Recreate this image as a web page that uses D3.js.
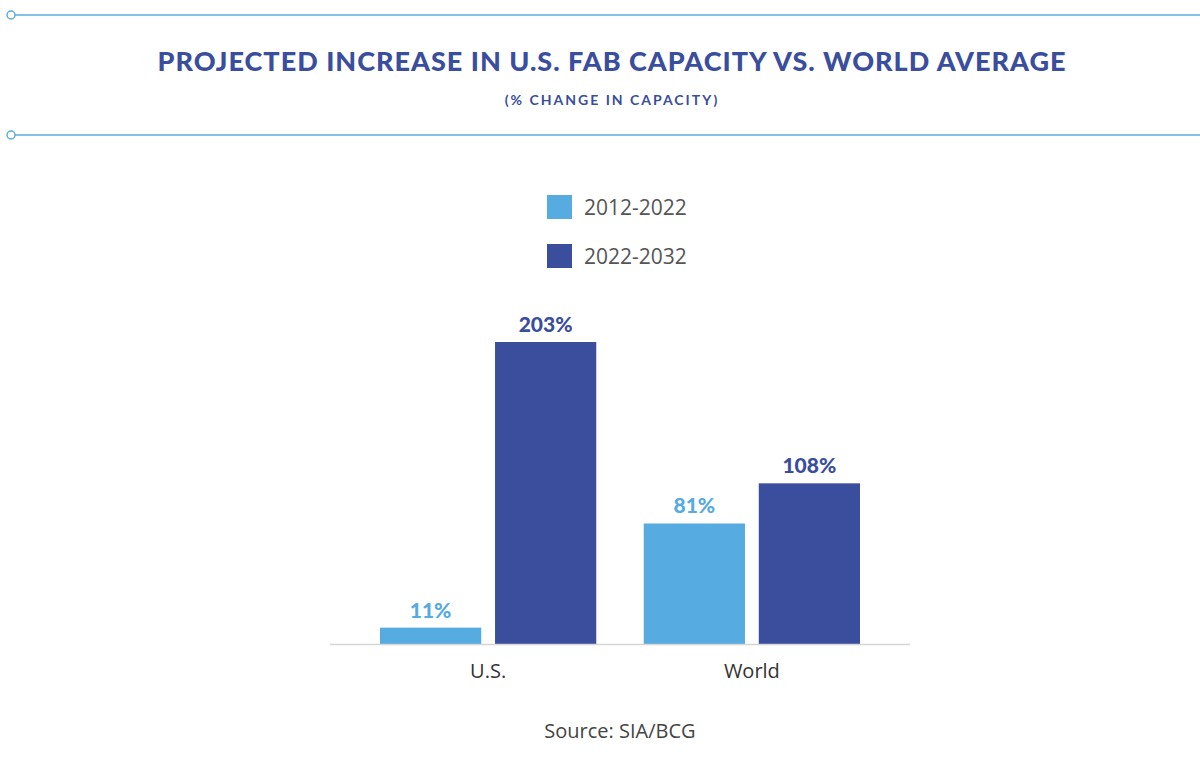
<!DOCTYPE html>
<html lang="en">
<head>
  <meta charset="UTF-8">
  <title>Fab Capacity</title>
  <style>
    html, body { margin: 0; background: #fff; }
  </style>
</head>
<body>
  <script src="https://d3js.org/d3.v7.min.js"></script>
  <script>
    const groups = ["U.S.", "World"];
    const periods = ["2012-2022", "2022-2032"];
    const values2012 = [11, 81];
    const values2022 = [203, 108];
    const colors = ["#56abe0", "#3a4e9d"];

    const svg = d3.select("body").append("svg")
      .attr("width", 1200).attr("height", 764);

    // header rules
    [15, 135].forEach(y => {
      svg.append("line").attr("x1", 15).attr("x2", 1200).attr("y1", y).attr("y2", y)
        .attr("stroke", "#5aaedb").attr("stroke-width", 1.5);
      svg.append("circle").attr("cx", 11).attr("cy", y).attr("r", 4)
        .attr("fill", "#fff").attr("stroke", "#5aaedb").attr("stroke-width", 1.5);
    });

    svg.append("text").attr("x", 612).attr("y", 71).attr("text-anchor", "middle")
      .attr("font-family", "Lato").attr("font-weight", 900).attr("font-size", 27)
      .attr("letter-spacing", 1).attr("fill", "#3a4e9d")
      .text("PROJECTED INCREASE IN U.S. FAB CAPACITY VS. WORLD AVERAGE");
    svg.append("text").attr("x", 612).attr("y", 105).attr("text-anchor", "middle")
      .attr("font-family", "Lato").attr("font-weight", 700).attr("font-size", 14)
      .attr("letter-spacing", 2).attr("fill", "#3a4e9d")
      .text("(% CHANGE IN CAPACITY)");

    // legend
    periods.forEach((p, i) => {
      const y = 195 + i * 49;
      svg.append("rect").attr("x", 547).attr("y", y).attr("width", 25).attr("height", 24)
        .attr("fill", colors[i]);
      svg.append("text").attr("x", 584).attr("y", y + 20)
        .attr("font-family", "Open Sans").attr("font-size", 21).attr("fill", "#555")
        .text(p);
    });

    const x0 = d3.scaleBand().domain(groups).range([380, 860]).paddingInner(0.18);
    const x1 = d3.scaleBand().domain(periods).range([0, x0.bandwidth()]).paddingInner(0.12);
    const y = d3.scaleLinear().domain([0, 203]).range([644, 342]);

    const rows = groups.map((g, i) => ({ g, vals: [values2012[i], values2022[i]] }));

    const grp = svg.selectAll(".grp").data(rows).enter().append("g")
      .attr("transform", d => `translate(${x0(d.g)},0)`);

    grp.selectAll("rect").data(d => d.vals.map((v, i) => ({ v, i })))
      .enter().append("rect")
      .attr("x", d => x1(periods[d.i]))
      .attr("width", x1.bandwidth())
      .attr("y", d => y(d.v))
      .attr("height", d => y(0) - y(d.v))
      .attr("fill", d => colors[d.i]);

    grp.selectAll("text.lbl").data(d => d.vals.map((v, i) => ({ v, i })))
      .enter().append("text")
      .attr("x", d => x1(periods[d.i]) + x1.bandwidth() / 2)
      .attr("y", d => y(d.v) - 10)
      .attr("text-anchor", "middle")
      .attr("font-family", "Lato").attr("font-weight", 900).attr("font-size", 21)
      .attr("fill", d => colors[d.i])
      .text(d => d.v + "%");

    svg.append("line").attr("x1", 330).attr("x2", 910).attr("y1", 644.5).attr("y2", 644.5)
      .attr("stroke", "#d5d5d5").attr("stroke-width", 1.5);

    const xAxis = svg.append("g").attr("transform", "translate(0,644)")
      .call(d3.axisBottom(x0).tickSize(0).tickPadding(16));
    xAxis.select(".domain").remove();
    xAxis.selectAll("text").attr("font-family", "Open Sans").attr("font-size", 20)
      .attr("fill", "#333").attr("dy", "0.9em");

    svg.append("text").attr("x", 620).attr("y", 738).attr("text-anchor", "middle")
      .attr("font-family", "Open Sans").attr("font-size", 20).attr("fill", "#444")
      .text("Source: SIA/BCG");
  </script>
</body>
</html>
